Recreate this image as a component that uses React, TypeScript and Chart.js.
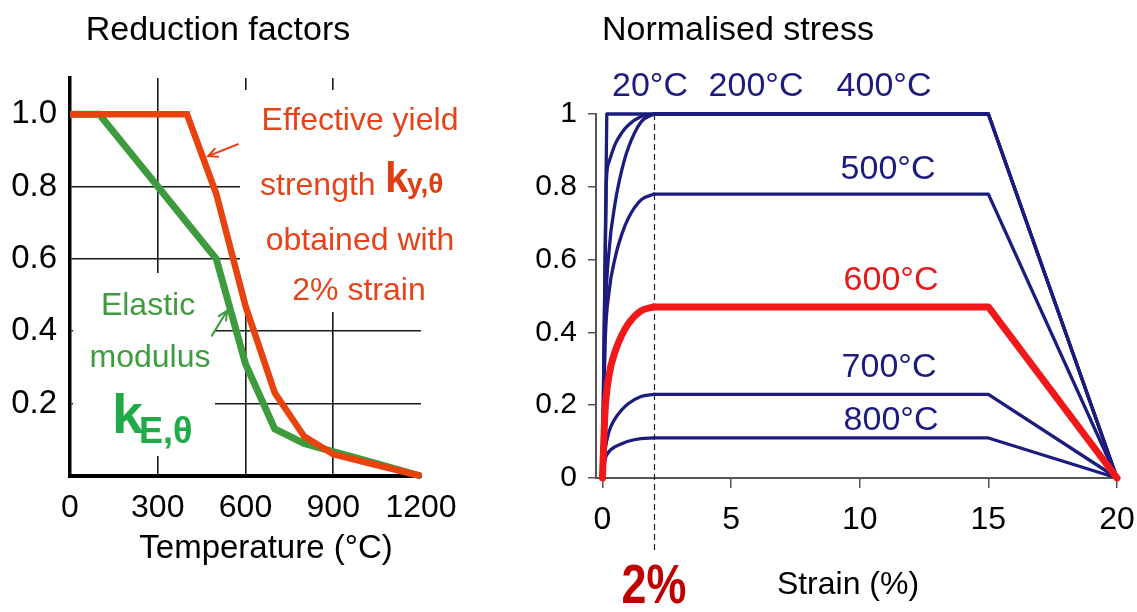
import { useEffect, useRef } from "react";
import { Chart, registerables } from "chart.js";

Chart.register(...registerables);

const WIDTH = 1137;
const HEIGHT = 612;
const SANS = '"Liberation Sans", Arial, sans-serif';

// ---- Reduction factors against temperature ----
const temperatures = [0, 100, 200, 300, 400, 500, 600, 700, 800, 900, 1000, 1100, 1200];
const yieldReduction = [1, 1, 1, 1, 1, 0.78, 0.47, 0.23, 0.11, 0.06, 0.04, 0.02, 0];
const modulusReduction = [1, 1, 0.9, 0.8, 0.7, 0.6, 0.31, 0.13, 0.09, 0.0675, 0.045, 0.0225, 0];
const temperatureTicks = [0, 300, 600, 900, 1200];
const reductionTicks = [0, 0.2, 0.4, 0.6, 0.8, 1.0];

// ---- Normalised stress against strain ----
const strainTicks = [0, 5, 10, 15, 20];
const stressTicks = [0, 0.2, 0.4, 0.6, 0.8, 1];
const curveLabels = ["20°C", "200°C", "400°C", "500°C", "600°C", "700°C", "800°C"];
const curveYield = [1, 1, 1, 0.78, 0.47, 0.23, 0.11];
const rise20Strain = [0, 0.17, 2];
const rise20Stress = [0, 1, 1];
const rise200Strain = [0, 0.15, 0.25, 0.5, 0.75, 1, 1.5, 2];
const rise200Stress = [0, 0.81, 0.867, 0.918, 0.948, 0.969, 0.993, 1];
const riseStrain = [0, 0.1, 0.25, 0.5, 0.75, 1, 1.5, 2];
const rise400Stress = [0, 0.42, 0.619, 0.758, 0.845, 0.906, 0.978, 1];
const rise500Stress = [0, 0.36, 0.507, 0.607, 0.669, 0.713, 0.764, 0.78];
const rise600Stress = [0, 0.18, 0.279, 0.349, 0.392, 0.423, 0.459, 0.47];
const rise700Stress = [0, 0.075, 0.126, 0.164, 0.187, 0.204, 0.224, 0.23];
const rise800Stress = [0, 0.05, 0.072, 0.086, 0.094, 0.101, 0.108, 0.11];
const tailStrain = [2, 15, 20];
const yieldStrain = 2;

const NAVY = "#1c1c7e";
const HOT = "#f01818";
const ORANGE_RED = "#e5431a";
const GREEN = "#3e9c3e";

const pts = (xs: number[], ys: number[]) => xs.map((x, i) => ({ x, y: ys[i] }));

function text(
  ctx: CanvasRenderingContext2D,
  s: string,
  x: number,
  y: number,
  font: string,
  color: string,
  align: CanvasTextAlign = "center",
  squeeze = 1
) {
  ctx.save();
  ctx.font = font;
  ctx.fillStyle = color;
  ctx.textAlign = align;
  ctx.textBaseline = "alphabetic";
  ctx.translate(x, y);
  ctx.scale(squeeze, 1);
  ctx.fillText(s, 0, 0);
  ctx.restore();
}

function arrow(ctx: CanvasRenderingContext2D, x1: number, y1: number, x2: number, y2: number, color: string) {
  const a = Math.atan2(y2 - y1, x2 - x1);
  const len = 10;
  ctx.save();
  ctx.strokeStyle = color;
  ctx.lineWidth = 2;
  ctx.lineCap = "round";
  ctx.beginPath();
  ctx.moveTo(x1, y1);
  ctx.lineTo(x2, y2);
  ctx.moveTo(x2 - len * Math.cos(a - 0.45), y2 - len * Math.sin(a - 0.45));
  ctx.lineTo(x2, y2);
  ctx.lineTo(x2 - len * Math.cos(a + 0.45), y2 - len * Math.sin(a + 0.45));
  ctx.stroke();
  ctx.restore();
}

const reductionNotes = {
  id: "reductionNotes",
  beforeDatasetsDraw(chart: any) {
    const ctx: CanvasRenderingContext2D = chart.ctx;
    ctx.save();
    ctx.fillStyle = "#ffffff";
    ctx.fillRect(240, 90, 240, 222);
    ctx.fillRect(73, 273, 142, 183);
    ctx.restore();
  },
  afterDatasetsDraw(chart: any) {
    const ctx: CanvasRenderingContext2D = chart.ctx;
    const xs = chart.scales.x;
    const ys = chart.scales.y;
    // pointers from the notes to their curves
    arrow(ctx, xs.getPixelForValue(574), ys.getPixelForValue(0.917), xs.getPixelForValue(472), ys.getPixelForValue(0.884), ORANGE_RED);
    arrow(ctx, xs.getPixelForValue(485), ys.getPixelForValue(0.388), xs.getPixelForValue(537), ys.getPixelForValue(0.457), GREEN);

    const body = `32px ${SANS}`;
    text(ctx, "Effective yield", 360, 130, body, ORANGE_RED);
    text(ctx, "strength", 260, 195, body, ORANGE_RED, "left");
    text(ctx, "k", 385, 192, `bold 42px ${SANS}`, "#e23c12", "left");
    text(ctx, "y,θ", 407, 193, `bold 28px ${SANS}`, "#e23c12", "left");
    text(ctx, "obtained with", 360, 250, body, ORANGE_RED);
    text(ctx, "2% strain", 359, 300, body, ORANGE_RED);

    text(ctx, "Elastic", 148, 315, body, GREEN);
    text(ctx, "modulus", 150, 367, body, GREEN);
    text(ctx, "k", 112, 433, `bold 56px ${SANS}`, "#20ab48", "left");
    text(ctx, "E,θ", 139, 443, `bold 36px ${SANS}`, "#20ab48", "left");
  },
  afterDraw(chart: any) {
    const ctx: CanvasRenderingContext2D = chart.ctx;
    text(ctx, "Reduction factors", 218, 40, `34px ${SANS}`, "#000");
    text(ctx, "Temperature (°C)", 266, 558, `33px ${SANS}`, "#000");
  },
};

const stressNotes = {
  id: "stressNotes",
  beforeDatasetsDraw(chart: any) {
    const ctx: CanvasRenderingContext2D = chart.ctx;
    const xs = chart.scales.x;
    const ys = chart.scales.y;
    const px = Math.round(xs.getPixelForValue(yieldStrain)) + 0.5;
    ctx.save();
    ctx.strokeStyle = "#222";
    ctx.lineWidth = 1.2;
    ctx.setLineDash([6, 4]);
    ctx.beginPath();
    ctx.moveTo(px, ys.getPixelForValue(1));
    ctx.lineTo(px, 550);
    ctx.stroke();
    ctx.restore();
  },
  afterDraw(chart: any) {
    const ctx: CanvasRenderingContext2D = chart.ctx;
    const xs = chart.scales.x;
    text(ctx, "Normalised stress", 738, 40, `34px ${SANS}`, "#000");
    const lf = `34px ${SANS}`;
    text(ctx, curveLabels[0], 650, 96, lf, NAVY);
    text(ctx, curveLabels[1], 756, 96, lf, NAVY);
    text(ctx, curveLabels[2], 884, 96, lf, NAVY);
    text(ctx, curveLabels[3], 888, 179, lf, NAVY);
    text(ctx, curveLabels[4], 891, 290, lf, "#e31b1b");
    text(ctx, curveLabels[5], 889, 377, lf, NAVY);
    text(ctx, curveLabels[6], 891, 430, lf, NAVY);
    text(ctx, "Strain (%)", 848, 594, `32px ${SANS}`, "#000");
    text(ctx, "2%", xs.getPixelForValue(yieldStrain), 603, `bold 56px ${SANS}`, "#c00000", "center", 0.8);
  },
};

const riseCurves = [
  pts(rise20Strain, rise20Stress),
  pts(rise200Strain, rise200Stress),
  pts(riseStrain, rise400Stress),
  pts(riseStrain, rise500Stress),
  pts(riseStrain, rise600Stress),
  pts(riseStrain, rise700Stress),
  pts(riseStrain, rise800Stress),
];

export default function App() {
  const leftRef = useRef<HTMLCanvasElement | null>(null);
  const rightRef = useRef<HTMLCanvasElement | null>(null);

  useEffect(() => {
    const left = new Chart(leftRef.current as HTMLCanvasElement, {
      type: "line",
      data: {
        datasets: [
          {
            label: "Effective yield strength",
            data: pts(temperatures, yieldReduction),
            borderColor: "#e8420f",
            borderWidth: 6.5,
            pointRadius: 0,
            tension: 0,
            clip: false,
          },
          {
            label: "Elastic modulus",
            data: pts(temperatures, modulusReduction),
            borderColor: "#3d9b3d",
            borderWidth: 7,
            pointRadius: 0,
            tension: 0,
            clip: false,
          },
        ],
      } as any,
      options: {
        responsive: false,
        devicePixelRatio: 1,
        animation: false,
        events: [],
        layout: { padding: { left: 0, top: 78, right: WIDTH - 421, bottom: 0 } },
        plugins: { legend: { display: false }, tooltip: { enabled: false } },
        scales: {
          x: {
            type: "linear",
            min: 0,
            max: 1200,
            afterBuildTicks: (s: any) => {
              s.ticks = temperatureTicks.map((v) => ({ value: v }));
            },
            afterFit: (s: any) => {
              s.height = HEIGHT - 476;
              s.paddingLeft = 0;
              s.paddingRight = 0;
            },
            grid: {
              color: (c: any) =>
                c.tick && (c.tick.value === 0 || c.tick.value === 1200) ? "rgba(0,0,0,0)" : "#1a1a1a",
              lineWidth: 1.6,
              drawTicks: false,
            },
            border: { display: true, color: "#000", width: 4 },
            ticks: {
              font: { family: SANS, size: 32 },
              color: "#000",
              padding: 13,
              maxRotation: 0,
              autoSkip: false,
              callback: (v: any) => String(v),
            },
          },
          y: {
            type: "linear",
            min: 0,
            max: 1.1,
            afterBuildTicks: (s: any) => {
              s.ticks = reductionTicks.map((v) => ({ value: v }));
            },
            afterFit: (s: any) => {
              s.width = 70;
              s.paddingTop = 0;
              s.paddingBottom = 0;
            },
            grid: {
              color: (c: any) =>
                c.tick && (c.tick.value === 0 || c.tick.value === 1) ? "rgba(0,0,0,0)" : "#1a1a1a",
              lineWidth: 1.6,
              drawTicks: false,
            },
            border: { display: true, color: "#000", width: 3.5 },
            ticks: {
              font: { family: SANS, size: 33 },
              color: "#000",
              padding: 13,
              autoSkip: false,
              callback: (v: any) => (Number(v) === 0 ? "" : Number(v).toFixed(1)),
            },
          },
        },
      } as any,
      plugins: [reductionNotes],
    });

    const riseSets = riseCurves.map((data, i) => ({
      label: curveLabels[i],
      data,
      borderColor: i === 4 ? HOT : NAVY,
      borderWidth: i === 4 ? 7 : 3.3,
      pointRadius: 0,
      cubicInterpolationMode: i === 0 ? "default" : "monotone",
      tension: 0,
      borderCapStyle: "round",
      borderJoinStyle: "round",
      clip: false,
      order: i === 4 ? 0 : 1,
    }));
    const tailSets = curveYield.map((k, i) => ({
      label: curveLabels[i],
      data: pts(tailStrain, [k, k, 0]),
      borderColor: i === 4 ? HOT : NAVY,
      borderWidth: i === 4 ? 7 : 3.3,
      pointRadius: 0,
      tension: 0,
      borderCapStyle: "round",
      borderJoinStyle: "round",
      clip: false,
      order: i === 4 ? 0 : 1,
    }));

    const right = new Chart(rightRef.current as HTMLCanvasElement, {
      type: "line",
      data: { datasets: [...riseSets, ...tailSets] } as any,
      options: {
        responsive: false,
        devicePixelRatio: 1,
        animation: false,
        events: [],
        layout: { padding: { left: 596 - 80, top: 114, right: WIDTH - 1117, bottom: 0 } },
        plugins: { legend: { display: false }, tooltip: { enabled: false } },
        scales: {
          x: {
            type: "linear",
            min: -0.25,
            max: 20,
            afterBuildTicks: (s: any) => {
              s.ticks = strainTicks.map((v) => ({ value: v }));
            },
            afterFit: (s: any) => {
              s.height = HEIGHT - 478;
              s.paddingLeft = 0;
              s.paddingRight = 0;
            },
            grid: { drawOnChartArea: false, drawTicks: true, tickLength: 10, color: "#555", lineWidth: 1.5 },
            border: { display: true, color: "#555", width: 2 },
            ticks: {
              font: { family: SANS, size: 32 },
              color: "#000",
              padding: 13,
              maxRotation: 0,
              autoSkip: false,
              callback: (v: any) => String(v),
            },
          },
          y: {
            type: "linear",
            min: 0,
            max: 1,
            afterBuildTicks: (s: any) => {
              s.ticks = stressTicks.map((v) => ({ value: v }));
            },
            afterFit: (s: any) => {
              s.width = 80;
              s.paddingTop = 0;
              s.paddingBottom = 0;
            },
            grid: { drawOnChartArea: false, drawTicks: true, tickLength: 8, color: "#555", lineWidth: 1.5 },
            border: { display: true, color: "#555", width: 2 },
            ticks: {
              font: { family: SANS, size: 30 },
              color: "#000",
              padding: 11,
              autoSkip: false,
              callback: (v: any) => {
                const n = Number(v);
                return n === 0 || n === 1 ? String(n) : n.toFixed(1);
              },
            },
          },
        },
      } as any,
      plugins: [stressNotes],
    });

    return () => {
      left.destroy();
      right.destroy();
    };
  }, []);

  const layer: any = { position: "absolute", left: 0, top: 0, width: WIDTH, height: HEIGHT };
  return (
    <div style={{ position: "fixed", left: 0, top: 0, width: WIDTH, height: HEIGHT, background: "#fff" }}>
      <canvas ref={leftRef} width={WIDTH} height={HEIGHT} style={layer} />
      <canvas ref={rightRef} width={WIDTH} height={HEIGHT} style={layer} />
    </div>
  );
}
